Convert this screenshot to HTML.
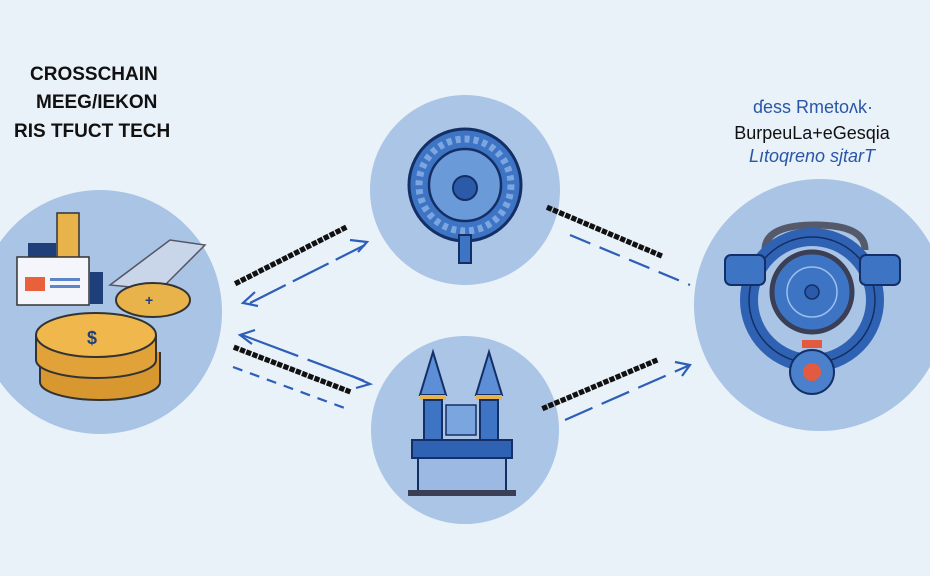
<!DOCTYPE html>
<html><head><meta charset="utf-8"><style>
html,body{margin:0;padding:0;background:#e9f1f9;}
svg{display:block;}
text{font-family:"Liberation Sans",sans-serif;}
</style></head><body>
<svg width="930" height="576" viewBox="0 0 930 576">
<rect width="930" height="576" fill="#e9f1f9"/>
<circle cx="100" cy="312" r="122" fill="#a9c4e4"/>
<circle cx="465" cy="190" r="95" fill="#aac5e5"/>
<circle cx="465" cy="430" r="94" fill="#aac5e5"/>
<circle cx="820" cy="305" r="126" fill="#a9c4e4"/>

<text x="30" y="80" font-size="19" font-weight="bold" fill="#111">CROSSCHAIN</text>
<text x="36" y="108" font-size="19" font-weight="bold" fill="#111">MEEG/IEKON</text>
<text x="14" y="137" font-size="19" font-weight="bold" fill="#111">RIS TFUCT TECH</text>

<text x="813" y="113" font-size="18" fill="#2a56a8" text-anchor="middle">ɗess Rmetoʌk·</text>
<text x="812" y="139" font-size="18" fill="#111" text-anchor="middle">BurpeuLa+eGesqia</text>
<text x="812" y="162" font-size="18" fill="#2a56a8" text-anchor="middle" font-style="italic">Lıtoqreno sjtarT</text>

<!-- left icons -->
<rect x="57" y="213" width="22" height="70" fill="#e8b34a" stroke="#333" stroke-width="1.5"/>
<rect x="28" y="243" width="28" height="26" fill="#1f3f7a"/>
<rect x="17" y="257" width="72" height="48" fill="#f4f6fb" stroke="#333" stroke-width="1.5"/>
<rect x="25" y="277" width="20" height="14" fill="#e9613a"/>
<rect x="50" y="278" width="30" height="3" fill="#5b86c9"/><rect x="50" y="285" width="30" height="3" fill="#5b86c9"/>
<rect x="90" y="272" width="13" height="32" fill="#1f3f7a"/>
<polygon points="110,285 170,240 205,245 160,290" fill="#c9d6ea" stroke="#556" stroke-width="1.5"/>
<ellipse cx="153" cy="300" rx="37" ry="17" fill="#e8b34a" stroke="#333" stroke-width="2"/>
<text x="145" y="305" font-size="14" fill="#1f3f7a" font-weight="bold">+</text>
<!-- coin stack -->
<ellipse cx="100" cy="382" rx="60" ry="18" fill="#d9982f" stroke="#333" stroke-width="2"/>
<rect x="40" y="352" width="120" height="30" fill="#d9982f"/>
<line x1="40" y1="352" x2="40" y2="382" stroke="#333" stroke-width="2"/>
<line x1="160" y1="352" x2="160" y2="382" stroke="#333" stroke-width="2"/>
<ellipse cx="96" cy="360" rx="60" ry="18" fill="#e1a23a" stroke="#333" stroke-width="2"/>
<rect x="36" y="335" width="120" height="25" fill="#e1a23a"/>
<line x1="36" y1="335" x2="36" y2="360" stroke="#333" stroke-width="2"/>
<line x1="156" y1="335" x2="156" y2="360" stroke="#333" stroke-width="2"/>
<ellipse cx="96" cy="335" rx="60" ry="22" fill="#f0b84c" stroke="#333" stroke-width="2"/>
<text x="87" y="344" font-size="18" fill="#1f3f7a" font-weight="bold">$</text>

<!-- top middle icon -->
<circle cx="465" cy="185" r="56" fill="#3e74c4" stroke="#142f66" stroke-width="3"/>
<circle cx="465" cy="185" r="46" fill="none" stroke="#7da6e0" stroke-width="7" stroke-dasharray="5 4"/>
<circle cx="465" cy="185" r="36" fill="#6b9ad9" stroke="#142f66" stroke-width="2.5"/>
<circle cx="465" cy="188" r="12" fill="#2a5aa8" stroke="#142f66" stroke-width="2"/>
<rect x="459" y="235" width="12" height="28" fill="#3e74c4" stroke="#142f66" stroke-width="2"/>

<!-- bottom middle icon -->
<polygon points="433,352 420,395 446,395" fill="#5d8fd6" stroke="#142f66" stroke-width="2"/>
<polygon points="489,352 476,395 502,395" fill="#5d8fd6" stroke="#142f66" stroke-width="2"/>
<rect x="420" y="395" width="26" height="5" fill="#e8b34a"/>
<rect x="476" y="395" width="26" height="5" fill="#e8b34a"/>
<rect x="446" y="405" width="30" height="30" fill="#7aa5de" stroke="#142f66" stroke-width="1.5"/>
<rect x="424" y="400" width="18" height="45" fill="#3e74c4" stroke="#142f66" stroke-width="2"/>
<rect x="480" y="400" width="18" height="45" fill="#3e74c4" stroke="#142f66" stroke-width="2"/>
<rect x="412" y="440" width="100" height="18" fill="#2f62b3" stroke="#142f66" stroke-width="2"/>
<rect x="418" y="458" width="88" height="33" fill="#9bb9e2" stroke="#142f66" stroke-width="2"/>
<rect x="408" y="490" width="108" height="6" fill="#3a3f55"/>

<!-- right icon -->
<path d="M765,250 Q765,225 815,225 Q865,225 865,250" fill="none" stroke="#555a6a" stroke-width="7"/>
<circle cx="812" cy="300" r="63" fill="none" stroke="#2f62b3" stroke-width="18"/>
<circle cx="812" cy="300" r="63" fill="none" stroke="#142f66" stroke-width="1.5"/>
<rect x="725" y="255" width="40" height="30" rx="6" fill="#3e74c4" stroke="#142f66" stroke-width="2"/>
<rect x="860" y="255" width="40" height="30" rx="6" fill="#3e74c4" stroke="#142f66" stroke-width="2"/>
<circle cx="812" cy="292" r="40" fill="#3e74c4" stroke="#3a3f55" stroke-width="5"/>
<circle cx="812" cy="292" r="25" fill="none" stroke="#9cc0ee" stroke-width="1.5"/>
<circle cx="812" cy="292" r="7" fill="#2a5aa8" stroke="#142f66" stroke-width="1.5"/>
<rect x="802" y="340" width="20" height="8" fill="#e25b40"/>
<circle cx="812" cy="372" r="22" fill="#4a80cc" stroke="#142f66" stroke-width="2"/>
<circle cx="812" cy="372" r="9" fill="#e25b40"/>

<!-- connectors -->
<g stroke="#2d5fb8" stroke-width="2.2" fill="none">
<line x1="250" y1="303" x2="365" y2="245" stroke-dasharray="40 8"/>
<polyline points="255,292 243,303 258,306"/>
<polyline points="350,240 367,242 358,252"/>
<line x1="242" y1="335" x2="370" y2="383" stroke-dasharray="60 10"/>
<polyline points="255,330 240,335 252,344"/>
<polyline points="352,376 370,384 356,388"/>
<line x1="233" y1="367" x2="350" y2="410" stroke-dasharray="10 8"/>
<line x1="570" y1="235" x2="690" y2="285" stroke-dasharray="22 10"/>
<line x1="565" y1="420" x2="690" y2="365" stroke-dasharray="30 10"/>
<polyline points="675,362 690,365 682,376"/>
</g>
<g font-size="11" font-weight="bold" fill="#111">
<text transform="translate(236,287) rotate(-27)">■■■■■■■■■■■■■■■■■■■</text>
<text transform="translate(232,350) rotate(21)">■■■■■■■■■■■■■■■■■■■</text>
<text transform="translate(545,210) rotate(23)">■■■■■■■■■■■■■■■■■■■</text>
<text transform="translate(543,412) rotate(-23)">■■■■■■■■■■■■■■■■■■■</text>
</g>
</svg>
</body></html>
